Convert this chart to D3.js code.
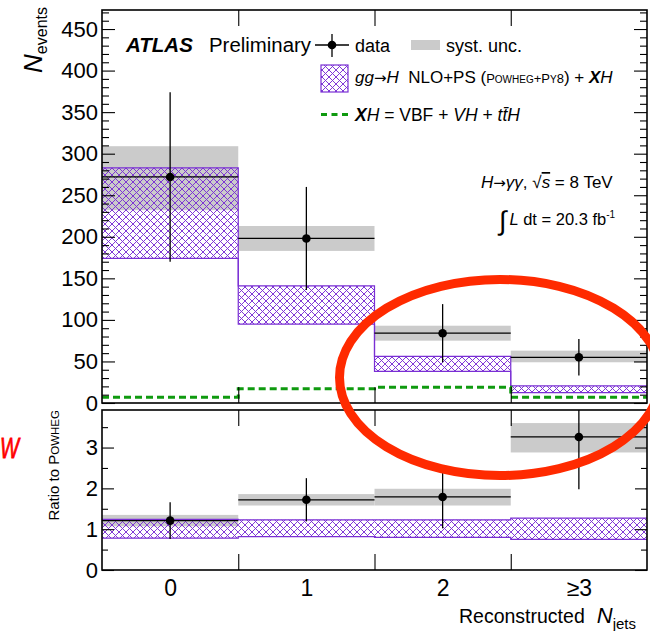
<!DOCTYPE html>
<html>
<head>
<meta charset="utf-8">
<script src="https://cdn.jsdelivr.net/npm/d3@7"></script>
<style>
  body { margin: 0; background: #fff; }
  svg { display: block; font-family: "Liberation Sans", Arial, Helvetica, sans-serif; }
</style>
</head>
<body>
<svg id="chart" width="650" height="631"></svg>
<script>
// Jet multiplicity in H -> gamma gamma events: data vs gg->H (POWHEG+PY8) + XH
const categories = ["0", "1", "2", "≥3"];
const binCenters = [0, 1, 2, 3];
const binEdges = [-0.5, 0.5, 1.5, 2.5, 3.5];

const dataEvents = [272, 198, 84, 55];
const dataErr = [102, 62, 35, 22];
const systLow = [232, 183, 75, 49];
const systHigh = [309, 213, 93, 63];
const predLow = [174, 95, 38, 12.5];
const predHigh = [283, 141, 56, 20.5];
const xhEvents = [7, 17, 19, 7];

const ratio = [1.21, 1.72, 1.79, 3.26];
const ratioErr = [0.45, 0.53, 0.77, 1.28];
const ratioSystLow = [1.07, 1.58, 1.58, 2.88];
const ratioSystHigh = [1.35, 1.86, 1.99, 3.60];
const ratioPredLow = [0.78, 0.82, 0.80, 0.75];
const ratioPredHigh = [1.24, 1.23, 1.23, 1.27];

const eventTicks = [0, 50, 100, 150, 200, 250, 300, 350, 400, 450];
const ratioTicks = [0, 1, 2, 3];

const PURPLE = "#7a2fd4";
const GREEN = "#0f9a0f";
const GRAY = "#cbcbcb";

const svg = d3.select("#chart");
const defs = svg.append("defs");

// cross-hatch fill for the prediction band
const pat = defs.append("pattern")
  .attr("id", "hatch").attr("patternUnits", "userSpaceOnUse")
  .attr("width", 7).attr("height", 7);
pat.append("path")
  .attr("d", "M-1,1 L1,-1 M0,7 L7,0 M6,8 L8,6 M-1,6 L1,8 M0,0 L7,7 M6,-1 L8,1")
  .attr("stroke", PURPLE).attr("stroke-width", 0.95).attr("fill", "none");

const x = d3.scaleLinear().domain([-0.5, 3.5]).range([102, 647]);
const yTop = d3.scaleLinear().domain([0, 472.9]).range([403, 10]);
const yRat = d3.scaleLinear().domain([0, 3.92]).range([570, 410]);

function clip(id, y0, y1) {
  defs.append("clipPath").attr("id", id).append("rect")
    .attr("x", x.range()[0]).attr("y", y0)
    .attr("width", x.range()[1] - x.range()[0]).attr("height", y1 - y0);
}
clip("clipTop", 10, 403);
clip("clipRat", 410, 570);

const bins = d3.range(categories.length);

function drawPanel(y, clipId, s) {
  const g = svg.append("g").attr("clip-path", `url(#${clipId})`);
  // systematic band
  g.selectAll("rect.syst").data(bins).join("rect")
    .attr("x", i => x(binEdges[i])).attr("width", i => x(binEdges[i + 1]) - x(binEdges[i]))
    .attr("y", i => y(s.sHi[i])).attr("height", i => y(s.sLo[i]) - y(s.sHi[i]))
    .attr("fill", GRAY);
  // prediction band, hatched
  g.selectAll("rect.pred").data(bins).join("rect")
    .attr("x", i => x(binEdges[i])).attr("width", i => x(binEdges[i + 1]) - x(binEdges[i]))
    .attr("y", i => y(s.pHi[i])).attr("height", i => y(s.pLo[i]) - y(s.pHi[i]))
    .attr("fill", "url(#hatch)");
  const step = d3.line().curve(d3.curveStepAfter).x(d => x(d[0])).y(d => y(d[1]));
  const stepPts = vals => bins.map(i => [binEdges[i], vals[i]]).concat([[binEdges[4], vals[3]]]);
  [s.pHi, s.pLo].forEach(v => g.append("path").attr("d", step(stepPts(v)))
    .attr("fill", "none").attr("stroke", PURPLE).attr("stroke-width", 1.2));
  if (s.xh) {
    g.append("path").attr("d", step(stepPts(s.xh)))
      .attr("fill", "none").attr("stroke", GREEN).attr("stroke-width", 3)
      .attr("stroke-dasharray", "7,4");
  }
  // data with errors
  g.selectAll("line.xerr").data(bins).join("line")
    .attr("x1", i => x(binEdges[i])).attr("x2", i => x(binEdges[i + 1]))
    .attr("y1", i => y(s.d[i])).attr("y2", i => y(s.d[i]))
    .attr("stroke", "#000").attr("stroke-width", 1.3);
  g.selectAll("line.yerr").data(bins).join("line")
    .attr("x1", i => x(binCenters[i])).attr("x2", i => x(binCenters[i]))
    .attr("y1", i => y(s.d[i] + s.e[i])).attr("y2", i => y(s.d[i] - s.e[i]))
    .attr("stroke", "#000").attr("stroke-width", 1.3);
  g.selectAll("circle").data(bins).join("circle")
    .attr("cx", i => x(binCenters[i])).attr("cy", i => y(s.d[i])).attr("r", 4.3)
    .attr("fill", "#000");
}

drawPanel(yTop, "clipTop", { sLo: systLow, sHi: systHigh, pLo: predLow, pHi: predHigh,
  xh: xhEvents, d: dataEvents, e: dataErr });
drawPanel(yRat, "clipRat", { sLo: ratioSystLow, sHi: ratioSystHigh, pLo: ratioPredLow,
  pHi: ratioPredHigh, d: ratio, e: ratioErr });

// axes and frames
function yAxes(y, ticks, minorStep, majLen, minLen) {
  const hi = y.domain()[1];
  const minor = d3.range(0, hi + 1e-9, minorStep).filter(v => !ticks.includes(v));
  const left = svg.append("g").attr("transform", `translate(${x.range()[0]},0)`)
    .call(d3.axisLeft(y).tickValues(ticks).tickSize(-majLen).tickPadding(4)
      .tickFormat(d3.format("d")));
  left.selectAll("text").attr("font-size", 22).attr("font-family", null).attr("fill", "#000");
  svg.append("g").attr("transform", `translate(${x.range()[0]},0)`)
    .call(d3.axisLeft(y).tickValues(minor).tickSize(-minLen).tickFormat(""));
  svg.append("g").attr("transform", `translate(${x.range()[1]},0)`)
    .call(d3.axisRight(y).tickValues(ticks).tickSize(-majLen).tickFormat(""));
  svg.append("g").attr("transform", `translate(${x.range()[1]},0)`)
    .call(d3.axisRight(y).tickValues(minor).tickSize(-minLen).tickFormat(""));
}
function xEdgeTicks(yTopPx, yBotPx) {
  const inner = binEdges.slice(1, 4);
  svg.append("g").attr("transform", `translate(0,${yBotPx})`)
    .call(d3.axisBottom(x).tickValues(inner).tickSize(-16).tickFormat(""));
  svg.append("g").attr("transform", `translate(0,${yTopPx})`)
    .call(d3.axisTop(x).tickValues(inner).tickSize(-16).tickFormat(""));
}
yAxes(yTop, eventTicks, 10, 13, 7);
yAxes(yRat, ratioTicks, 0.5, 12, 6);
xEdgeTicks(10, 403);
xEdgeTicks(410, 570);

const xLab = svg.append("g").attr("transform", "translate(0,570)")
  .call(d3.axisBottom(x).tickValues(binCenters).tickSize(0).tickPadding(10)
    .tickFormat((d, i) => categories[i]));
xLab.selectAll("text").attr("font-size", 23).attr("font-family", null).attr("fill", "#000");

svg.selectAll(".domain").remove();
svg.selectAll(".tick line").attr("stroke", "#000").attr("stroke-width", 1.1);

[[10, 403], [410, 570]].forEach(([t, b]) => svg.append("rect")
  .attr("x", x.range()[0]).attr("y", t)
  .attr("width", x.range()[1] - x.range()[0]).attr("height", b - t)
  .attr("fill", "none").attr("stroke", "#000").attr("stroke-width", 1.6));

// axis titles
const yt = svg.append("text").attr("transform", "translate(42,7) rotate(-90)")
  .attr("text-anchor", "end");
yt.append("tspan").attr("font-size", 26).attr("font-style", "italic").text("N");
yt.append("tspan").attr("font-size", 16).attr("dy", 5).text("events");

const rt = svg.append("text").attr("transform", "translate(59,410) rotate(-90)")
  .attr("text-anchor", "end").attr("font-size", 15);
rt.append("tspan").text("Ratio to P");
rt.append("tspan").attr("font-size", 11.5).text("OWHEG");

const xt = svg.append("text").attr("x", 459).attr("y", 623).attr("font-size", 19.5);
xt.append("tspan").text("Reconstructed");
xt.append("tspan").attr("dx", 12).attr("font-style", "italic").attr("font-size", 22).text("N");
xt.append("tspan").attr("dy", 6).attr("font-size", 15).text("jets");

// labels
svg.append("text").attr("x", 126).attr("y", 52).attr("font-size", 20.5)
  .attr("font-weight", "bold").attr("font-style", "italic").text("ATLAS");
svg.append("text").attr("x", 209).attr("y", 52).attr("font-size", 20)
  .attr("textLength", 102).attr("lengthAdjust", "spacingAndGlyphs").text("Preliminary");

// legend
svg.append("line").attr("x1", 315).attr("x2", 349).attr("y1", 45).attr("y2", 45)
  .attr("stroke", "#000").attr("stroke-width", 1.3);
svg.append("line").attr("x1", 332).attr("x2", 332).attr("y1", 34).attr("y2", 57)
  .attr("stroke", "#000").attr("stroke-width", 1.3);
svg.append("circle").attr("cx", 332).attr("cy", 45).attr("r", 4.3).attr("fill", "#000");
svg.append("text").attr("x", 355).attr("y", 52).attr("font-size", 18).text("data");
svg.append("rect").attr("x", 411).attr("y", 40).attr("width", 29).attr("height", 10).attr("fill", GRAY);
svg.append("text").attr("x", 446).attr("y", 52).attr("font-size", 18).text("syst. unc.");

svg.append("rect").attr("x", 321).attr("y", 65).attr("width", 27).attr("height", 27)
  .attr("fill", "url(#hatch)").attr("stroke", PURPLE).attr("stroke-width", 1.2);
const l2 = svg.append("text").attr("x", 355).attr("y", 83).attr("font-size", 17)
  .attr("xml:space", "preserve");
l2.append("tspan").attr("font-style", "italic").text("gg");
l2.append("tspan").attr("font-family", "DejaVu Sans").attr("font-size", 15).text("→");
l2.append("tspan").attr("font-style", "italic").text("H");
l2.append("tspan").text("  NLO+PS (");
l2.append("tspan").attr("font-size", 13).text("P");
l2.append("tspan").attr("font-size", 10).text("OWHEG");
l2.append("tspan").attr("font-size", 13).text("+P");
l2.append("tspan").attr("font-size", 10).text("Y");
l2.append("tspan").attr("font-size", 13).text("8");
l2.append("tspan").text(") + ");
l2.append("tspan").attr("font-style", "italic").attr("font-weight", "bold").text("X");
l2.append("tspan").attr("font-style", "italic").text("H");

svg.append("line").attr("x1", 321).attr("x2", 348).attr("y1", 114.5).attr("y2", 114.5)
  .attr("stroke", GREEN).attr("stroke-width", 3).attr("stroke-dasharray", "6,4.5");
const l3 = svg.append("text").attr("x", 355).attr("y", 121).attr("font-size", 17.5)
  .attr("xml:space", "preserve");
l3.append("tspan").attr("font-style", "italic").attr("font-weight", "bold").text("X");
l3.append("tspan").attr("font-style", "italic").text("H");
l3.append("tspan").text(" = VBF + ");
l3.append("tspan").attr("font-style", "italic").text("VH");
l3.append("tspan").text(" + ");
l3.append("tspan").attr("font-style", "italic").text("tt\u0304H");

// physics annotation
const a1 = svg.append("text").attr("x", 481).attr("y", 188).attr("font-size", 17);
a1.append("tspan").attr("font-style", "italic").text("H");
a1.append("tspan").attr("font-family", "DejaVu Sans").attr("font-size", 15).text("→");
a1.append("tspan").attr("font-style", "italic").text("γγ");
a1.append("tspan").text(", √");
a1.append("tspan").attr("font-style", "italic").attr("text-decoration", "overline").text("s");
a1.append("tspan").text(" = 8 TeV");

const a2 = svg.append("text").attr("x", 499).attr("y", 225).attr("font-size", 16.5);
a2.append("tspan").attr("font-size", 27).attr("dy", 5).text("∫");
a2.append("tspan").attr("font-style", "italic").attr("dy", -5).attr("dx", 3).text("L");
a2.append("tspan").text(" dt = 20.3 fb");
a2.append("tspan").attr("font-size", 10).attr("dy", -7).text("-1");

// highlight ellipse and margin mark
svg.append("ellipse").attr("cx", 500).attr("cy", 377.5).attr("rx", 160.5).attr("ry", 98)
  .attr("fill", "none").attr("stroke", "#ff2a00").attr("stroke-width", 9);
svg.append("text").attr("x", 0).attr("y", 458).attr("font-size", 30)
  .attr("font-style", "italic").attr("fill", "#ff0000")
  .attr("stroke", "#ff0000").attr("stroke-width", 0.8)
  .attr("textLength", 19).attr("lengthAdjust", "spacingAndGlyphs").text("W");
</script>
</body>
</html>
